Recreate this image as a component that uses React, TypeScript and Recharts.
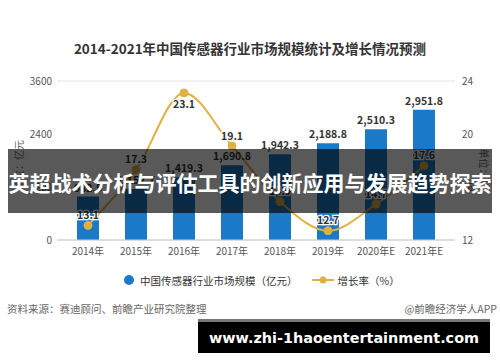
import { ComposedChart, Bar, Line, XAxis, YAxis, CartesianGrid, LabelList } from "recharts"

const years = ["2014年", "2015年", "2016年", "2017年", "2018年", "2019年", "2020年E", "2021年E"]
const marketSize = [982.5, 1152.7, 1419.3, 1690.8, 1942.3, 2188.8, 2510.3, 2951.8]
const growthRate = [13.1, 17.3, 23.1, 19.1, 14.9, 12.7, 14.7, 17.6]
const leftTicks = [0, 1200, 2400, 3600]
const rightTicks = [12, 16, 20, 24]

const data = years.map((year, i) => ({ year, size: marketSize[i], growth: growthRate[i] }))

const FONT = '"Noto Sans CJK SC", "Noto Sans", sans-serif'
const BLUE = "#1b7ac7"
const GOLD = "#e0b043"
const maxGrowth = Math.max(...growthRate)

function GrowthLabel(props: any) {
    const { x, y, value } = props
    const below = value === maxGrowth
    return (
        <text
            x={x}
            y={below ? y + 11 : y - 10}
            dy="0.35em"
            textAnchor="middle"
            fontSize={10.5}
            fontWeight="bold"
            fontFamily={FONT}
            fill="#333"
            stroke="#fff"
            strokeWidth={2.5}
            paintOrder="stroke"
        >
            {Number(value).toFixed(1)}
        </text>
    )
}

export default function App() {
    return (
        <div style={{ position: "absolute", left: 0, top: 0, width: 500, height: 362, background: "#fff", fontFamily: FONT, overflow: "hidden" }}>
            <div style={{ position: "absolute", left: 0, top: 40, width: 500, textAlign: "center", fontSize: 13.5, fontWeight: "bold", color: "#333", lineHeight: "16px" }}>
                2014-2021年中国传感器行业市场规模统计及增长情况预测
            </div>
            <ComposedChart width={500} height={362} data={data} margin={{ top: 81, right: 0, bottom: 100, left: 0 }}>
                <CartesianGrid vertical={false} stroke="#e4e4e4" />
                <XAxis
                    dataKey="year"
                    height={22}
                    padding={{ left: 7, right: 7 }}
                    tickLine={false}
                    axisLine={{ stroke: "#cccccc" }}
                    tick={{ fontSize: 10, fill: "#555", fontFamily: FONT }}
                    interval={0}
                />
                <YAxis
                    yAxisId="left"
                    width={57}
                    domain={[0, 3600]}
                    ticks={leftTicks}
                    tickLine={false}
                    axisLine={false}
                    tickSize={0}
                    tickMargin={5}
                    tick={{ fontSize: 10, fill: "#555", fontFamily: FONT }}
                />
                <YAxis
                    yAxisId="right"
                    orientation="right"
                    width={45}
                    domain={[12, 24]}
                    ticks={rightTicks}
                    tickLine={false}
                    axisLine={false}
                    tickSize={0}
                    tickMargin={7}
                    tick={{ fontSize: 10, fill: "#555", fontFamily: FONT }}
                />
                <Bar yAxisId="left" dataKey="size" fill={BLUE} barSize={22} isAnimationActive={false}>
                    <LabelList
                        dataKey="size"
                        position="top"
                        offset={5}
                        formatter={(v: any) => Number(v).toLocaleString("en-US", { minimumFractionDigits: 1, maximumFractionDigits: 1 })}
                        style={{ fontSize: 10.5, fontWeight: "bold", fill: "#333", fontFamily: FONT }}
                    />
                </Bar>
                <Line
                    yAxisId="right"
                    type="monotone"
                    dataKey="growth"
                    stroke={GOLD}
                    strokeWidth={2}
                    dot={{ r: 4, fill: GOLD, stroke: GOLD, strokeWidth: 1 }}
                    isAnimationActive={false}
                >
                    <LabelList dataKey="growth" content={GrowthLabel} />
                </Line>
            </ComposedChart>

            <div style={{ position: "absolute", left: 18, top: 165, transform: "translate(-50%, -50%) rotate(-90deg)", fontSize: 10, color: "#666", whiteSpace: "nowrap" }}>
                单位：亿元
            </div>
            <div style={{ position: "absolute", left: 484, top: 168, transform: "translate(-50%, -50%) rotate(90deg)", fontSize: 10, color: "#666", whiteSpace: "nowrap" }}>
                单位：%
            </div>

            <div style={{ position: "absolute", top: 273, left: 124, height: 14, display: "flex", alignItems: "center", fontSize: 10.5, color: "#333", whiteSpace: "nowrap" }}>
                <span style={{ width: 10, height: 10, borderRadius: 5, background: BLUE, marginRight: 6 }} />
                <span>中国传感器行业市场规模（亿元）</span>
                <svg width={22} height={10} style={{ marginLeft: 14, marginRight: 4 }}>
                    <line x1={0} y1={5} x2={22} y2={5} stroke={GOLD} strokeWidth={2} />
                    <circle cx={11} cy={5} r={3.5} fill={GOLD} />
                </svg>
                <span>增长率（%）</span>
            </div>

            <div style={{ position: "absolute", left: 7, top: 301, fontSize: 10.5, color: "#666", whiteSpace: "nowrap" }}>资料来源：赛迪顾问、前瞻产业研究院整理</div>
            <div style={{ position: "absolute", right: 3, top: 301, fontSize: 10.5, color: "#666", whiteSpace: "nowrap" }}>@前瞻经济学人APP</div>

            <div style={{ position: "absolute", left: 8, top: 149, width: 484, height: 64, background: "rgba(0,0,0,0.65)", display: "flex", alignItems: "center", justifyContent: "center" }}>
                <span style={{ color: "#fff", fontSize: 21, fontWeight: "bold", whiteSpace: "nowrap", marginTop: 2 }}>英超战术分析与评估工具的创新应用与发展趋势探索</span>
            </div>

            <div style={{ position: "absolute", left: 198, top: 319, width: 292, height: 3, background: "#777" }} />
            <div style={{ position: "absolute", left: 198, top: 322, width: 292, height: 31, background: "#000", display: "flex", alignItems: "center", justifyContent: "center" }}>
                <span style={{ color: "#fff", fontSize: 14.4, fontWeight: "bold", fontFamily: '"DejaVu Sans", sans-serif', whiteSpace: "nowrap" }}>www.zhi-1haoentertainment.com</span>
            </div>
        </div>
    )
}
